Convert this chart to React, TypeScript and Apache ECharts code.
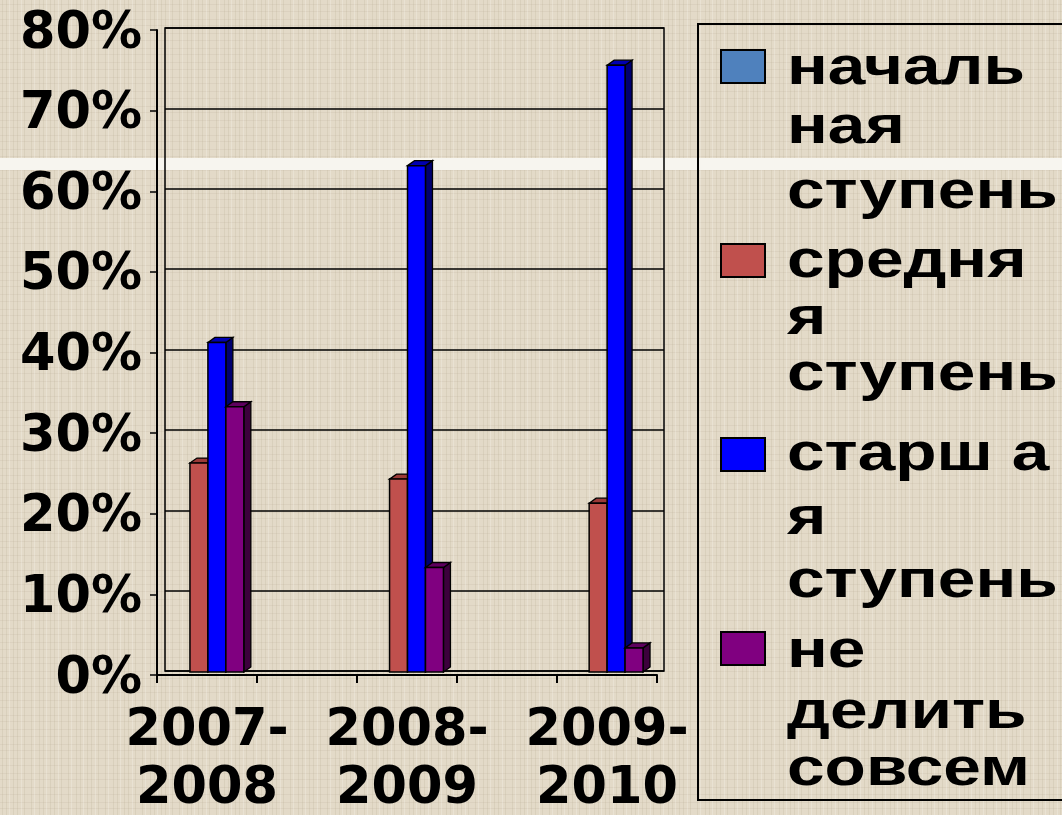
import React, { useEffect, useRef } from "react";
import * as echarts from "echarts";

// ---- data ----
const categories = ["2007-\n2008", "2008-\n2009", "2009-\n2010"];
const seriesNames = ["начальная ступень", "средняя ступень", "старшая ступень", "не делить совсем"];
const nachalnaya: (number | null)[] = [null, null, null];
const srednyaya = [26, 24, 21];
const starshaya = [41, 63, 75.5];
const neDelit = [33, 13, 3];
const yTicks = [0, 10, 20, 30, 40, 50, 60, 70, 80];
const legendLines = [
  ["началь", "ная", "ступень"],
  ["средня", "я", "ступень"],
  ["старш а", "я", "ступень"],
  ["не", "делить", "совсем"],
];

// axis slots: the chart leaves an empty slot between the school years
const axisCategories: string[] = [];
categories.forEach((c, i) => {
  if (i > 0) axisCategories.push("");
  axisCategories.push(c);
});

const BG = "#E0D6C3";

function makeLinen(): HTMLCanvasElement | null {
  try {
    const c = document.createElement("canvas");
    c.width = 37;
    c.height = 29;
    const ctx = c.getContext("2d");
    if (!ctx) return null;
    ctx.fillStyle = "#E3DAC8";
    ctx.fillRect(0, 0, 37, 29);
    ctx.fillStyle = "rgba(170,156,130,0.16)";
    [2, 6, 13, 17, 24, 31].forEach((x) => ctx.fillRect(x, 0, 1, 29));
    ctx.fillStyle = "rgba(170,156,130,0.13)";
    [4, 11, 19, 25].forEach((y) => ctx.fillRect(0, y, 37, 1));
    ctx.fillStyle = "rgba(255,255,250,0.22)";
    [9, 21, 34].forEach((x) => ctx.fillRect(x, 0, 1, 29));
    return c;
  } catch (e) {
    return null;
  }
}

const makeRender =
  (fL: number, fR: number, front: string, topC: string, side: string) =>
  (params: any, api: any) => {
    const cat = api.value(0);
    const val = api.value(1);
    const top = api.coord([cat, val]);
    const base = api.coord([cat, 0]);
    const bw = api.size([1, 0])[0];
    const cx = top[0];
    const x0 = cx + fL * bw;
    const x1 = cx + fR * bw;
    const yT = top[1] + 1;
    const yB = base[1] + 1;
    const dx = 7;
    const dy = 5;
    return {
      type: "group",
      children: [
        {
          type: "polygon",
          shape: { points: [[x1, yT], [x1 + dx, yT - dy], [x1 + dx, yB - dy], [x1, yB]] },
          style: { fill: side, stroke: "#000", lineWidth: 1.3 },
        },
        {
          type: "polygon",
          shape: { points: [[x0, yT], [x0 + dx, yT - dy], [x1 + dx, yT - dy], [x1, yT]] },
          style: { fill: topC, stroke: "#000", lineWidth: 1.3 },
        },
        {
          type: "rect",
          shape: { x: x0, y: yT, width: x1 - x0, height: yB - yT },
          style: { fill: front, stroke: "#000", lineWidth: 1.5 },
        },
      ],
    };
  };

const toData = (vals: (number | null)[]) =>
  vals.map((v, i) => [axisCategories.indexOf(categories[i]), v]).filter((d) => d[1] != null);

export default function App() {
  const ref = useRef<HTMLDivElement>(null);
  useEffect(() => {
    document.body.style.margin = "0";
    document.body.style.background = BG;
    const chart = echarts.init(ref.current!, null, { renderer: "svg" });

    const linen = makeLinen();
    const legendColors = ["#4F81BD", "#C0504D", "#0000FF", "#800080"];
    const markerTops = [50, 244, 438, 632];
    const baselines = [
      [84, 143, 208],
      [277, 334, 390],
      [470, 534, 597],
      [667, 728, 785],
    ];
    const graphics: any[] = [
      {
        type: "rect",
        z: -10,
        shape: { x: 0, y: 0, width: 1062, height: 815 },
        style: { fill: linen ? { image: linen, repeat: "repeat" } : BG },
        silent: true,
      },
      {
        type: "rect",
        z: -5,
        shape: { x: 0, y: 158, width: 1062, height: 12 },
        style: { fill: "#F7F5EF" },
        silent: true,
      },
      {
        type: "rect",
        z: 10,
        shape: { x: 698, y: 24, width: 400, height: 776 },
        style: { fill: "none", stroke: "#000", lineWidth: 2 },
      },
    ];
    legendLines.forEach((lines, i) => {
      graphics.push({
        type: "rect",
        z: 10,
        shape: { x: 721, y: markerTops[i], width: 44, height: 33 },
        style: { fill: legendColors[i], stroke: "#000", lineWidth: 2 },
      });
      lines.forEach((t, j) => {
        graphics.push({
          type: "text",
          z: 10,
          x: 787,
          y: baselines[i][j] - 18,
          scaleX: 1.3,
          style: {
            text: t,
            font: 'bold 52px "Liberation Sans", Arial, sans-serif',
            fill: "#000",
            align: "left",
            verticalAlign: "middle",
          },
        });
      });
    });

    const labelFont = {
      fontFamily: '"DejaVu Sans", sans-serif',
      fontWeight: "bold" as const,
      fontSize: 51,
      color: "#000",
    };

    chart.setOption({
      animation: false,
      backgroundColor: BG,
      grid: [
        {
          left: 165,
          top: 28,
          width: 499,
          height: 643,
          show: true,
          borderColor: "#000",
          borderWidth: 1.5,
          backgroundColor: "transparent",
          outerBoundsMode: "none",
        },
        { left: 157, top: 30, width: 500, height: 645, outerBoundsMode: "none" },
      ],
      xAxis: [
        {
          type: "category",
          gridIndex: 0,
          data: axisCategories,
          show: false,
        },
        {
          type: "category",
          gridIndex: 1,
          data: axisCategories,
          axisLine: { show: true, lineStyle: { color: "#000", width: 2 } },
          axisTick: { show: true, interval: 0, length: 8, lineStyle: { color: "#000", width: 2 } },
          axisLabel: { ...labelFont, interval: 0, margin: 23, lineHeight: 58 },
          splitLine: { show: false },
        },
      ],
      yAxis: [
        {
          type: "value",
          gridIndex: 0,
          min: 0,
          max: 80,
          interval: 10,
          axisLine: { show: false },
          axisTick: { show: false },
          axisLabel: { show: false },
          splitLine: { show: true, lineStyle: { color: "#000", width: 1.5 } },
        },
        {
          type: "value",
          gridIndex: 1,
          min: 0,
          max: 80,
          interval: 10,
          axisLine: { show: true, lineStyle: { color: "#000", width: 2 } },
          axisTick: { show: true, length: 7, lineStyle: { color: "#000", width: 1.5 } },
          axisLabel: {
            ...labelFont,
            margin: 15,
            padding: [10, 0, 0, 0],
            formatter: (v: number) => (yTicks.includes(v) ? v + "%" : ""),
          },
          splitLine: { show: false },
        },
      ],
      series: [
        {
          name: seriesNames[0],
          type: "custom",
          xAxisIndex: 0,
          yAxisIndex: 0,
          renderItem: makeRender(-0.34, -0.25, "#4F81BD", "#3A6396", "#2A4A73"),
          data: toData(nachalnaya),
        },
        {
          name: seriesNames[1],
          type: "custom",
          xAxisIndex: 0,
          yAxisIndex: 0,
          renderItem: makeRender(-0.25, -0.07, "#C0504D", "#9A3A38", "#7A2A28"),
          data: toData(srednyaya),
        },
        {
          name: seriesNames[2],
          type: "custom",
          xAxisIndex: 0,
          yAxisIndex: 0,
          renderItem: makeRender(-0.07, 0.11, "#0000FF", "#0000B0", "#000070"),
          data: toData(starshaya),
        },
        {
          name: seriesNames[3],
          type: "custom",
          xAxisIndex: 0,
          yAxisIndex: 0,
          renderItem: makeRender(0.11, 0.29, "#800080", "#5E005E", "#3C003C"),
          data: toData(neDelit),
        },
      ],
      graphic: graphics,
    });
    return () => chart.dispose();
  }, []);
  return (
    <div
      ref={ref}
      style={{ position: "fixed", left: 0, top: 0, width: 1062, height: 815 }}
    />
  );
}
